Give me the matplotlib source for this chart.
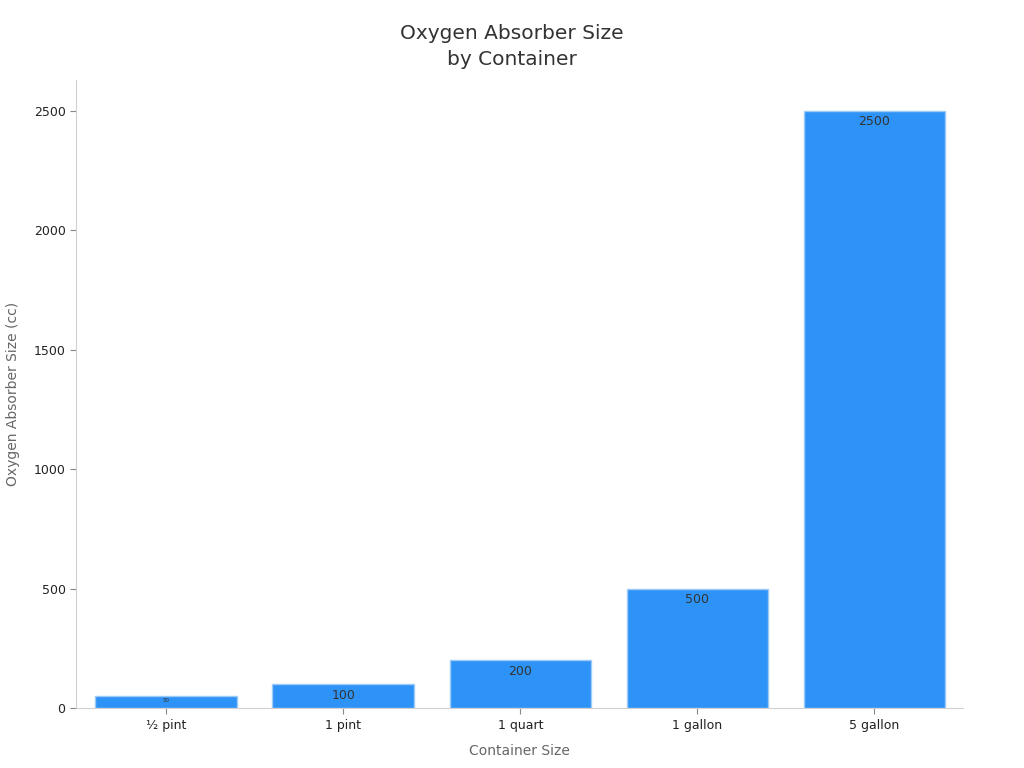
import matplotlib
matplotlib.use("Agg")

import matplotlib.pyplot as plt

containers = ["½ pint", "1 pint", "1 quart", "1 gallon", "5 gallon"]
absorber_cc = [50, 100, 200, 500, 2500]
yticks = [0, 500, 1000, 1500, 2000, 2500]

BAR_COLOR = "#2e93f7"
EDGE_COLOR = "#9ccbf8"
SPINE_COLOR = "#d0d0d0"

fig = plt.figure(figsize=(10.24, 7.68), dpi=100)
ax = fig.add_axes([0.0742, 0.078, 0.8662, 0.818])

x = list(range(len(containers)))
bars = ax.bar(x, absorber_cc, width=0.8, color=BAR_COLOR, edgecolor=EDGE_COLOR, linewidth=1)

for xi, v in zip(x, absorber_cc):
    if v < 80:
        ax.text(xi, v - 6, str(v), ha="center", va="top", fontsize=4, color="#333333")
    else:
        ax.text(xi, v - 18, str(v), ha="center", va="top", fontsize=9, color="#333333")

ax.set_xlim(-0.51, 4.5)
ax.set_ylim(0, 2630)
ax.set_xticks(x)
ax.set_xticklabels(containers)
ax.set_yticks(yticks)
ax.tick_params(axis="both", labelsize=9, colors="#222222", length=4, width=0.8)
ax.tick_params(axis="both", color="#888888")

for side in ["top", "right"]:
    ax.spines[side].set_visible(False)
for side in ["left", "bottom"]:
    ax.spines[side].set_color(SPINE_COLOR)
    ax.spines[side].set_linewidth(0.8)

ax.set_xlabel("Container Size", fontsize=10, color="#666666", labelpad=9)
ax.set_ylabel("Oxygen Absorber Size (cc)", fontsize=10, color="#666666", labelpad=10)

fig.text(0.5, 0.969, "Oxygen Absorber Size\nby Container", ha="center", va="top",
         fontsize=14.5, color="#333333", linespacing=1.45)

fig.savefig("out.png", dpi=100)
